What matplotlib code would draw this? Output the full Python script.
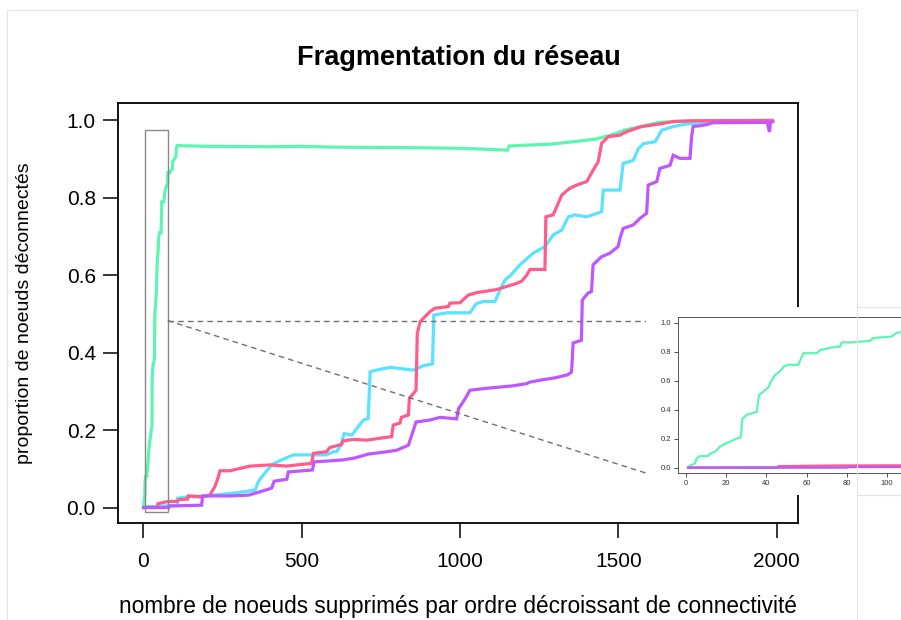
import numpy as np
import matplotlib
matplotlib.use("Agg")
import matplotlib.pyplot as plt
from matplotlib.lines import Line2D
from matplotlib.patches import Rectangle

plt.rcParams["font.family"] = ["Liberation Sans", "DejaVu Sans"]

# (x = noeuds supprimés, y = proportion déconnectée)
green = [(1, 0), (2, 0.014), (4.5, 0.03), (5.3, 0.065), (7, 0.08), (11, 0.08), (12, 0.095),
         (14.4, 0.11), (16.9, 0.145), (20.2, 0.17), (22.7, 0.185), (25.2, 0.2), (27.3, 0.21),
         (28, 0.335), (30.2, 0.365), (35.2, 0.385), (36.3, 0.5), (38.5, 0.525), (41, 0.555),
         (42.1, 0.59), (44.3, 0.64), (46.8, 0.665), (48.8, 0.70), (50.9, 0.71), (55.9, 0.71),
         (58.4, 0.79), (65, 0.79), (66.7, 0.81), (69.2, 0.82), (72.5, 0.83), (76.6, 0.835),
         (77.5, 0.865), (83.3, 0.865), (86.6, 0.87), (91.6, 0.875), (93.2, 0.895), (102.3, 0.905),
         (104.8, 0.93), (107, 0.935), (200, 0.933), (400, 0.932), (500, 0.933), (600, 0.931),
         (800, 0.930), (1000, 0.928), (1100, 0.925), (1150, 0.923), (1155, 0.934), (1290, 0.939),
         (1370, 0.946), (1430, 0.952), (1480, 0.963), (1520, 0.975), (1580, 0.986), (1630, 0.995),
         (1690, 0.998), (1985, 1.0)]

pink = [(1, 0), (45, 0), (46, 0.01), (74, 0.015), (108, 0.016), (111, 0.02), (140, 0.022),
        (142, 0.03), (184, 0.028), (210, 0.032), (226, 0.054), (237, 0.08), (242, 0.095),
        (274, 0.095), (305, 0.101), (337, 0.107), (400, 0.11), (452, 0.107), (484, 0.11),
        (531, 0.114), (537, 0.14), (578, 0.144), (589, 0.155), (626, 0.163), (631, 0.172),
        (663, 0.176), (705, 0.174), (747, 0.179), (784, 0.183), (789, 0.213), (810, 0.218),
        (815, 0.233), (837, 0.239), (840, 0.282), (861, 0.303), (865, 0.45), (874, 0.48),
        (889, 0.493), (905, 0.506), (921, 0.515), (963, 0.519), (968, 0.528), (1000, 0.529),
        (1026, 0.549), (1052, 0.555), (1115, 0.563), (1179, 0.579), (1195, 0.585), (1210, 0.6),
        (1221, 0.615), (1268, 0.615), (1271, 0.751), (1294, 0.756), (1310, 0.786), (1321, 0.807),
        (1347, 0.825), (1368, 0.833), (1400, 0.842), (1415, 0.864), (1436, 0.893), (1447, 0.941),
        (1468, 0.958), (1505, 0.962), (1526, 0.971), (1573, 0.984), (1631, 0.991), (1673, 0.997),
        (1736, 0.999), (1985, 1.0)]

cyan = [(1, 0), (10, 0.002), (63, 0.004), (107, 0.005), (108, 0.024), (142, 0.028), (184, 0.027),
        (221, 0.032), (274, 0.036), (353, 0.045), (363, 0.067), (374, 0.079), (405, 0.11),
        (431, 0.121), (474, 0.136), (578, 0.136), (600, 0.144), (610, 0.144), (623, 0.16),
        (634, 0.191), (658, 0.187), (674, 0.204), (695, 0.226), (710, 0.23), (716, 0.351),
        (747, 0.357), (779, 0.362), (853, 0.355), (884, 0.366), (913, 0.371), (917, 0.497),
        (958, 0.503), (1031, 0.503), (1052, 0.527), (1073, 0.532), (1110, 0.532), (1126, 0.562),
        (1142, 0.588), (1160, 0.6), (1189, 0.627), (1231, 0.657), (1268, 0.674), (1294, 0.704),
        (1321, 0.717), (1342, 0.751), (1363, 0.756), (1400, 0.751), (1447, 0.764), (1452, 0.82),
        (1505, 0.82), (1515, 0.889), (1547, 0.897), (1563, 0.927), (1579, 0.94), (1616, 0.945),
        (1637, 0.975), (1673, 0.984), (1715, 0.991), (1778, 0.994), (1850, 0.997), (1985, 0.998)]

purple = [(1, 0), (80, 0), (81, 0.004), (184, 0.006), (187, 0.03), (274, 0.03), (332, 0.032),
          (358, 0.038), (405, 0.05), (413, 0.068), (453, 0.073), (458, 0.092), (505, 0.095),
          (534, 0.097), (539, 0.118), (579, 0.12), (631, 0.123), (668, 0.128), (710, 0.138),
          (768, 0.144), (800, 0.148), (837, 0.161), (861, 0.221), (905, 0.226), (937, 0.233),
          (989, 0.229), (995, 0.255), (1016, 0.281), (1031, 0.303), (1084, 0.308), (1163, 0.314),
          (1210, 0.32), (1221, 0.324), (1260, 0.33), (1300, 0.335), (1340, 0.343), (1352, 0.35),
          (1357, 0.425), (1383, 0.432), (1386, 0.536), (1404, 0.554), (1415, 0.558), (1420, 0.627),
          (1447, 0.648), (1473, 0.657), (1499, 0.674), (1505, 0.696), (1515, 0.721), (1547, 0.73),
          (1568, 0.747), (1589, 0.76), (1594, 0.833), (1621, 0.842), (1631, 0.876), (1663, 0.884),
          (1673, 0.91), (1694, 0.902), (1726, 0.902), (1731, 0.958), (1736, 0.984), (1773, 0.988),
          (1799, 0.994), (1970, 0.995), (1977, 0.97), (1980, 0.995), (1988, 0.997)]

series = [(green, "#5ef5b2"), (cyan, "#5ae2ff"), (pink, "#ff5c8c"), (purple, "#bf57ff")]
xticks = [0, 500, 1000, 1500, 2000]
yticks = [0.0, 0.2, 0.4, 0.6, 0.8, 1.0]
zoom_box = (5, -0.012, 77, 0.975)    # x0, y0, x1, y1

W, H = 901, 620
fig = plt.figure(figsize=(W / 100, H / 100), dpi=100)

def fx(px): return px / W
def fy(py): return 1 - py / H

# faint frame of the original export
fig.add_artist(Line2D([fx(7), fx(857), fx(857)], [fy(630), fy(630), fy(10)], color="#e4e4e4", lw=0.8))
fig.add_artist(Line2D([fx(7), fx(7), fx(857)], [fy(630), fy(10), fy(10)], color="#e4e4e4", lw=0.8))

ax = fig.add_axes([fx(118), fy(523), fx(798) - fx(118), fy(103) - fy(523)])
for pts, col in series:
    xy = np.array(pts)
    ax.plot(xy[:, 0], xy[:, 1], color=col, lw=2.3, solid_joinstyle="miter")
ax.set_xlim(-80, 2067)
ax.set_ylim(-0.040, 1.045)
ax.set_xticks(xticks)
ax.set_xticklabels([str(t) for t in xticks])
ax.set_yticks(yticks)
ax.set_yticklabels([f"{t:.1f}" for t in yticks])
ax.tick_params(direction="out", length=11, width=1.1, labelsize=15, pad=10)
ax.tick_params(axis="y", pad=5)
for s in ax.spines.values():
    s.set_linewidth(1.3)

x0, y0, x1, y1 = zoom_box
ax.add_patch(Rectangle((x0, y0), x1 - x0, y1 - y0, fill=False, ec="#888888", lw=1.0, zorder=5))
ymid = 0.483
ax.plot([x1, 1690], [ymid, ymid], ls=(0, (4, 3)), color="#707070", lw=1.0, zorder=5)
ax.plot([x1, 1690], [ymid, 0.062], ls=(0, (4, 3)), color="#707070", lw=1.0, zorder=5)

# white patch of the pasted inset
cover = fig.add_axes([fx(646), fy(495), fx(905) - fx(646), fy(307) - fy(495)])
cover.set_facecolor("white")
cover.set_xticks([]); cover.set_yticks([])
for s in cover.spines.values():
    s.set_visible(False)
fig.add_artist(Line2D([fx(857), 1], [fy(307), fy(307)], color="#e4e4e4", lw=0.8))
fig.add_artist(Line2D([fx(857), 1], [fy(495), fy(495)], color="#e4e4e4", lw=0.8))

ins = fig.add_axes([fx(678), fy(473), fx(905) - fx(678), fy(317) - fy(473)])
for pts, col in series:
    xy = np.array(pts)
    ins.plot(xy[:, 0], xy[:, 1], color=col, lw=1.6)
ins.set_xlim(-4, 109)
ins.set_ylim(-0.037, 1.04)
ins.set_xticks([0, 20, 40, 60, 80, 100])
ins.set_yticks(yticks)
ins.set_yticklabels([f"{t:.1f}" for t in yticks])
ins.tick_params(direction="out", length=3, width=0.6, labelsize=5.5, pad=2, colors="#333333")
for s in ins.spines.values():
    s.set_linewidth(0.7)
    s.set_color("#555555")

fig.text(fx(459), fy(58), "Fragmentation du réseau", ha="center", va="center",
         fontsize=19.5, fontweight="bold")
fig.text(fx(458), fy(607), "nombre de noeuds supprimés par ordre décroissant de connectivité",
         ha="center", va="center", fontsize=16.3)
fig.text(fx(25), fy(313), "proportion de noeuds déconnectés", ha="center", va="center",
         rotation=90, fontsize=14)

fig.savefig("out.png", dpi=100)
